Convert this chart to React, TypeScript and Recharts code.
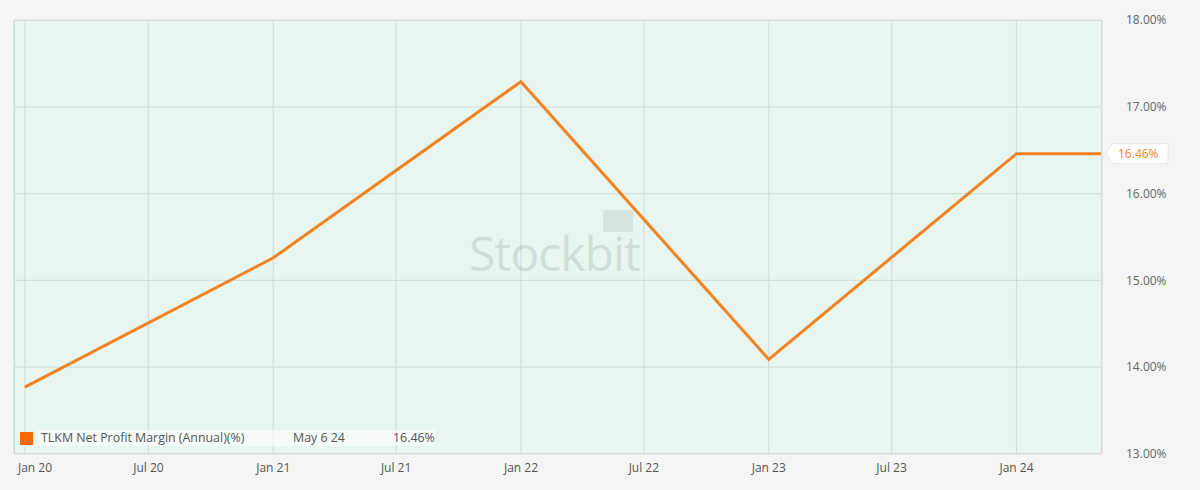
import React from 'react';
import { LineChart, Line, XAxis, YAxis, CartesianGrid, ReferenceLine } from 'recharts';

// annual net profit margin points, last one is the current reading
const pointDates = ['2020-01-01', '2021-01-01', '2022-01-01', '2023-01-01', '2024-01-01', '2024-05-06'];
const marginValues = [13.77, 15.26, 17.29, 14.09, 16.46, 16.46];

const xTickDates = ['2020-01-01', '2020-07-01', '2021-01-01', '2021-07-01', '2022-01-01', '2022-07-01', '2023-01-01', '2023-07-01', '2024-01-01'];
const yTicks = [13, 14, 15, 16, 17, 18];
const xDomain = ['2019-12-16', '2024-05-06'];

const seriesName = 'TLKM Net Profit Margin (Annual)(%)';
const lastLabel = 'May 6 24';

const MONTHS = ['Jan', 'Feb', 'Mar', 'Apr', 'May', 'Jun', 'Jul', 'Aug', 'Sep', 'Oct', 'Nov', 'Dec'];
const ts = (s: string) => Date.parse(s + 'T00:00:00Z');

const data = pointDates.map((d, i) => ({ t: ts(d), v: marginValues[i] }));
const lastValue = marginValues[marginValues.length - 1];

const FONT = '"Open Sans", Arial, sans-serif';
const ORANGE = '#f5821f';

const fmtTick = (t: number) => {
  const d = new Date(t);
  return `${MONTHS[d.getUTCMonth()]} ${String(d.getUTCFullYear()).slice(2)}`;
};

const XTick = (props: any) => {
  const { x, y, payload } = props;
  const cx = Math.max(x, 35);
  return (
    <text x={cx} y={y + 10} textAnchor="middle" fill="#555" fontSize={12} fontFamily={FONT}>
      {fmtTick(payload.value)}
    </text>
  );
};

const ValueTag = (props: any) => {
  const { viewBox } = props;
  const x = viewBox.x + viewBox.width + 4;
  const y = viewBox.y;
  return (
    <g>
      <path
        d={`M${x} ${y} L${x + 6} ${y - 10} L${x + 62} ${y - 10} L${x + 62} ${y + 10} L${x + 6} ${y + 10} Z`}
        fill="#fff"
        stroke="#e6e6e6"
      />
      <text x={x + 12} y={y + 4} fill={ORANGE} fontSize={12} fontFamily={FONT}>
        {lastValue.toFixed(2)}%
      </text>
    </g>
  );
};

export default function App() {
  return (
    <div style={{ position: 'absolute', left: 0, top: 0, width: 1200, height: 490, background: '#f5f5f5', overflow: 'hidden' }}>
      <LineChart width={1200} height={490} data={data} margin={{ top: 20, right: 0, bottom: 0, left: 14 }}>
        <CartesianGrid fill="#e7f6f0" stroke="#d6dedb" strokeWidth={1.2} />
        <XAxis
          dataKey="t"
          type="number"
          scale="time"
          domain={[ts(xDomain[0]), ts(xDomain[1])]}
          ticks={xTickDates.map(ts)}
          tick={<XTick />}
          tickLine={false}
          axisLine={false}
          height={36}
          interval={0}
        />
        <YAxis
          orientation="right"
          domain={[13, 18]}
          ticks={yTicks}
          tickFormatter={(v: number) => `${v.toFixed(2)}%`}
          tick={{ fill: '#666', fontSize: 12, fontFamily: FONT, textAnchor: 'start' }}
          tickLine={false}
          axisLine={false}
          tickMargin={18}
          width={98}
        />
        <ReferenceLine y={lastValue} stroke="none" label={<ValueTag />} ifOverflow="visible" />
        <Line
          type="linear"
          dataKey="v"
          stroke={ORANGE}
          strokeWidth={3}
          dot={false}
          activeDot={false}
          isAnimationActive={false}
        />
      </LineChart>

      {/* plot border */}
      <div style={{ position: 'absolute', left: 14, top: 20, width: 1088, height: 434, border: '1px solid #dadada', boxSizing: 'border-box', pointerEvents: 'none' }} />

      {/* watermark */}
      <div style={{ position: 'absolute', left: 469, top: 220, fontFamily: FONT, fontSize: 48, color: 'rgba(140,150,145,0.25)', letterSpacing: -1, pointerEvents: 'none' }}>
        Stockbit
      </div>
      <div style={{ position: 'absolute', left: 603, top: 210, width: 30, height: 22, background: 'rgba(150,160,155,0.2)', borderRadius: 2, pointerEvents: 'none' }} />

      {/* legend */}
      <div style={{ position: 'absolute', left: 20, top: 432, width: 13, height: 13, background: '#f56a00' }} />
      <div style={{ position: 'absolute', left: 38, top: 430, width: 397, height: 16, background: 'rgba(255,255,255,0.6)' }} />
      <div style={{ position: 'absolute', left: 41, top: 429, fontFamily: FONT, fontSize: 12.4, color: '#555', whiteSpace: 'nowrap' }}>{seriesName}</div>
      <div style={{ position: 'absolute', left: 293, top: 429, fontFamily: FONT, fontSize: 12.4, color: '#555' }}>{lastLabel}</div>
      <div style={{ position: 'absolute', left: 393, top: 429, fontFamily: FONT, fontSize: 12.4, color: '#555' }}>{lastValue.toFixed(2)}%</div>
    </div>
  );
}
